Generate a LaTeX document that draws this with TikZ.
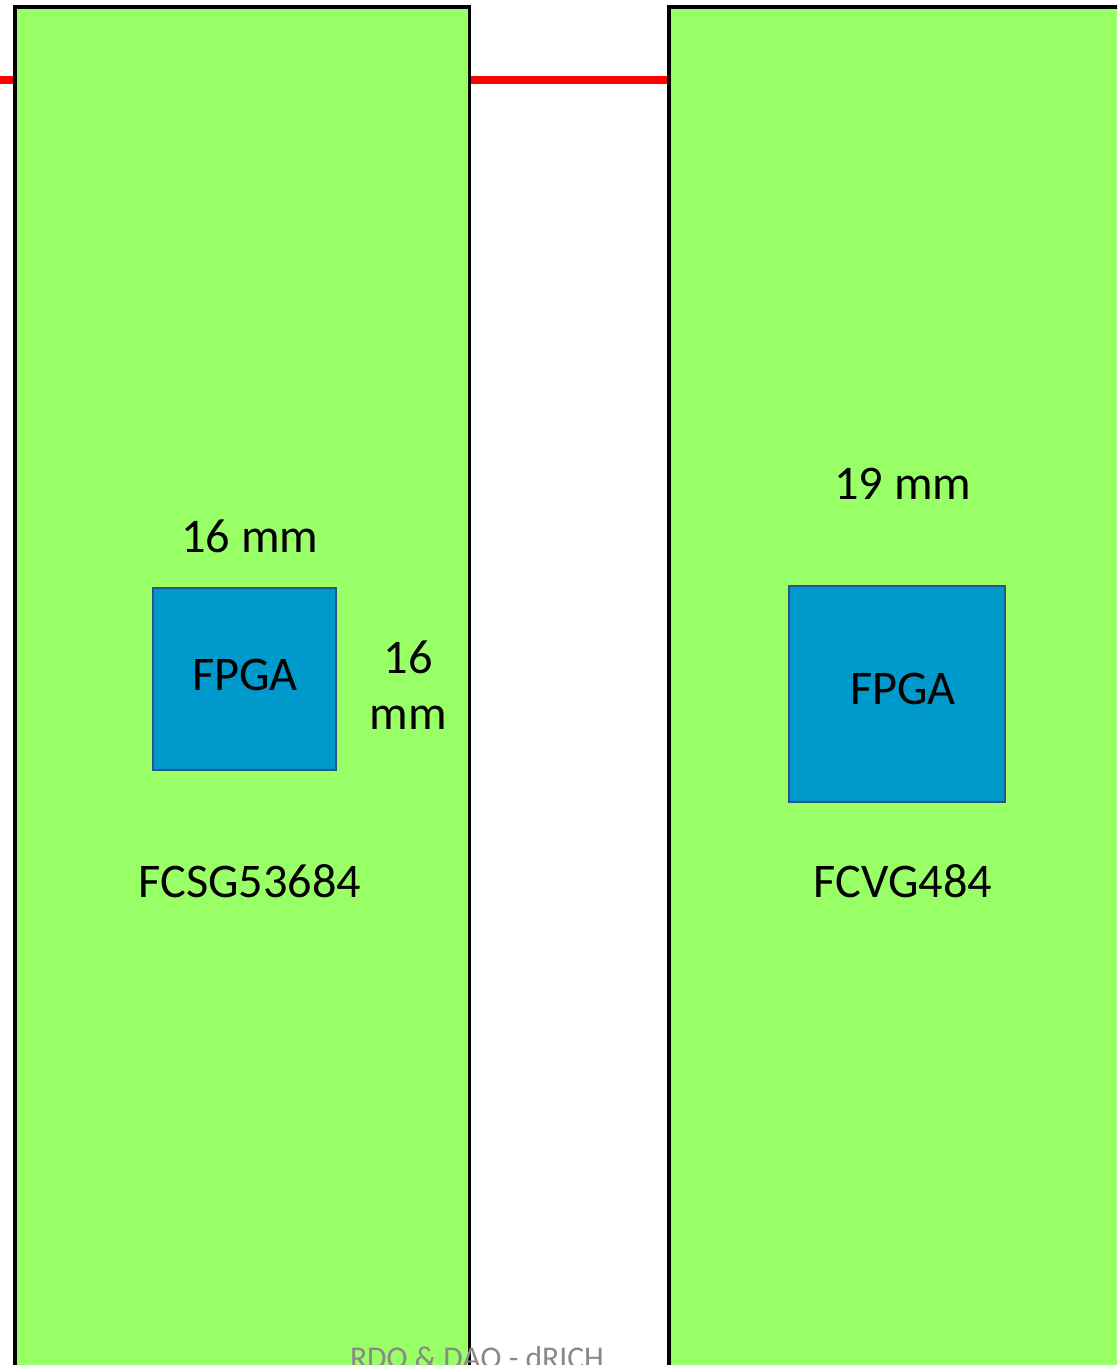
\documentclass[tikz,border=0pt]{standalone}
\usepackage{fontspec}
\setmainfont{Carlito}
\usetikzlibrary{positioning}

\definecolor{boardgreen}{RGB}{153,255,102}
\definecolor{fpgablue}{RGB}{0,153,204}
\definecolor{fpgaedge}{RGB}{47,82,143}
\definecolor{footgray}{RGB}{137,137,137}

\begin{document}
\begin{tikzpicture}[
    x=0.02cm, y=-0.02cm,
    board/.style={rectangle, draw=black, fill=boardgreen, line width=2pt, anchor=north west, inner sep=0pt},
    fpga/.style={rectangle, draw=fpgaedge, fill=fpgablue, line width=1.1pt, inner sep=0pt},
    lbl/.style={inner sep=0pt, align=center, font=\fontsize{27.5}{32}\selectfont},
    bus/.style={draw=red, line width=4pt}
]
\useasboundingbox (0,0) rectangle (1117,1365);
\clip (0,0) rectangle (1117,1365);

% boards
\node[board, minimum width=9.1cm, minimum height=28.3cm] (lb) at (13,5) {};
\node[board, minimum width=9.5cm, minimum height=28.3cm] (rb) at (667,5) {};

% red line between the boards
\coordinate (busstart) at (0,80);
\draw[bus] (busstart) -- (busstart -| lb.west);
\draw[bus] (busstart -| lb.east) -- (busstart -| rb.west);

% left board
\node[fpga, minimum width=3.66cm, minimum height=3.64cm] (lfpga) at (244.5,679) {};
\node[lbl] (lfpgatxt) at (245,675) {FPGA};
\node[lbl] (lwidth) at (250,536) {16 mm};
\node[lbl] (lheight) at (408,685) {16\\mm};
\node[lbl] (lname) at (250,881) {FCSG53684};

% right board
\node[fpga, minimum width=4.32cm, minimum height=4.32cm] (rfpga) at (897,694) {};
\node[lbl] (rfpgatxt) at (903,689) {FPGA};
\node[lbl] (rwidth) at (903,484) {19 mm};
\node[lbl] (rname) at (903,881) {FCVG484};

% footer
\node[inner sep=0pt, anchor=base, text=footgray, font=\fontsize{18}{22}\selectfont] (foot) at (477,1368) {RDO \& DAQ - dRICH};
\end{tikzpicture}
\end{document}
